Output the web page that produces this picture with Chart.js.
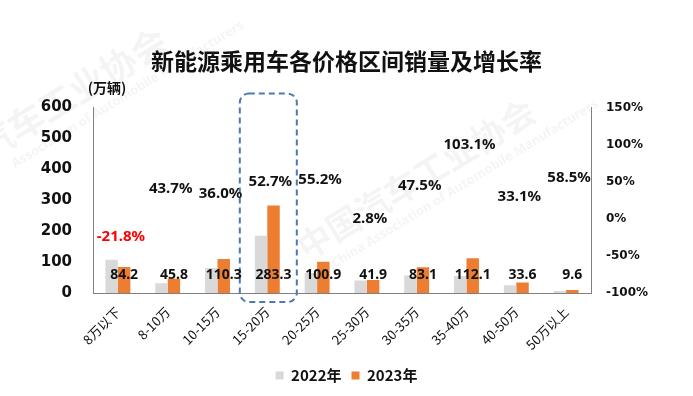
<!DOCTYPE html>
<html>
<head>
<meta charset="utf-8">
<script src="https://cdn.jsdelivr.net/npm/chart.js@4/dist/chart.umd.min.js"></script>
<style>
html,body{margin:0;padding:0;background:#fff;}
#wrap{width:693px;height:396px;position:relative;}
</style>
</head>
<body>
<div id="wrap"><canvas id="c" width="693" height="396"></canvas></div>
<script>
const categories = ['8万以下','8-10万','10-15万','15-20万','20-25万','25-30万','30-35万','35-40万','40-50万','50万以上'];
const sales2022 = [107.7, 31.9, 81.1, 185.5, 65.0, 40.8, 56.3, 55.2, 25.2, 6.1];
const sales2023 = [84.2, 45.8, 110.3, 283.3, 100.9, 41.9, 83.1, 112.1, 33.6, 9.6];
const growthRate = [-21.8, 43.7, 36.0, 52.7, 55.2, 2.8, 47.5, 103.1, 33.1, 58.5];
const leftTicks = [0, 100, 200, 300, 400, 500, 600];
const rightTicks = [-100, -50, 0, 50, 100, 150];
const highlightIndex = 3;

const CJK = '"Noto Sans CJK SC", "Noto Sans", sans-serif';

const watermark = {
  id: 'watermark',
  beforeDraw(chart) {
    const ctx = chart.ctx;
    ctx.save();
    ctx.fillStyle = 'rgba(0,0,0,0.045)';
    ctx.textAlign = 'left';
    ctx.textBaseline = 'middle';
    ctx.translate(-20, 150);
    ctx.rotate(-0.55);
    ctx.font = 'bold 36px ' + CJK;
    ctx.fillText('汽车工业协会', 0, 0);
    ctx.font = 'bold 13px "Noto Sans", sans-serif';
    ctx.fillText('Association of Automobile Manufacturers', 20, 30);
    ctx.restore();
    ctx.save();
    ctx.fillStyle = 'rgba(0,0,0,0.045)';
    ctx.textBaseline = 'middle';
    ctx.translate(300, 250);
    ctx.rotate(-0.55);
    ctx.font = 'bold 34px ' + CJK;
    ctx.fillText('中国汽车工业协会', 0, 0);
    ctx.font = 'bold 13px "Noto Sans", sans-serif';
    ctx.fillText('China Association of Automobile Manufacturers', 20, 30);
    ctx.restore();
  }
};

const extras = {
  id: 'extras',
  afterDatasetsDraw(chart) {
    const ctx = chart.ctx;
    const xs = chart.scales.x;
    const area = chart.chartArea;
    const cx = xs.getPixelForValue(highlightIndex) + 1;
    const half = 28.5;
    const top = area.top - 14, bottom = area.bottom + 9;
    ctx.save();
    ctx.strokeStyle = '#4A7AAE';
    ctx.lineWidth = 2;
    ctx.setLineDash([6, 4]);
    ctx.beginPath();
    ctx.roundRect(cx - half, top, half * 2, bottom - top, 9);
    ctx.stroke();
    ctx.restore();

    const meta23 = chart.getDatasetMeta(1);
    ctx.save();
    ctx.font = 'bold 14px "Noto Sans", sans-serif';
    ctx.fillStyle = '#111';
    ctx.textAlign = 'center';
    ctx.textBaseline = 'middle';
    meta23.data.forEach((el, i) => {
      ctx.fillText(sales2023[i].toFixed(1), el.x, area.bottom - 18);
    });
    ctx.restore();

    const metaG = chart.getDatasetMeta(2);
    ctx.save();
    ctx.font = 'bold 15px "Noto Sans", sans-serif';
    ctx.textAlign = 'center';
    ctx.textBaseline = 'middle';
    metaG.data.forEach((el, i) => {
      const v = growthRate[i];
      ctx.fillStyle = v < 0 ? '#FF0000' : '#111';
      ctx.fillText(v.toFixed(1) + '%', el.x + 3, el.y + 2);
    });
    ctx.restore();

    ctx.save();
    ctx.font = 'bold 14px ' + CJK;
    ctx.fillStyle = '#111';
    ctx.textAlign = 'center';
    ctx.textBaseline = 'middle';
    ctx.fillText('(万辆)', 107, 88);
    ctx.restore();
  }
};

new Chart(document.getElementById('c'), {
  data: {
    labels: categories,
    datasets: [
      { type: 'bar', label: '2022年', data: sales2022, backgroundColor: '#D9D9D9', yAxisID: 'y', categoryPercentage: 0.5, barPercentage: 1.0, order: 2 },
      { type: 'bar', label: '2023年', data: sales2023, backgroundColor: '#ED7D31', yAxisID: 'y', categoryPercentage: 0.5, barPercentage: 1.0, order: 2 },
      { type: 'line', label: '增长率', data: growthRate, yAxisID: 'y1', showLine: false, pointRadius: 0, pointHoverRadius: 0, borderColor: 'rgba(0,0,0,0)', backgroundColor: 'rgba(0,0,0,0)', order: 1 }
    ]
  },
  options: {
    responsive: false,
    animation: false,
    events: [],
    layout: { padding: { left: 0, right: 0, top: 0, bottom: 3 } },
    plugins: {
      title: {
        display: true,
        text: '新能源乘用车各价格区间销量及增长率',
        color: '#111',
        font: { family: CJK, size: 23, weight: 'bold' },
        padding: { top: 47, bottom: 33 }
      },
      legend: {
        position: 'bottom',
        labels: {
          filter: (item) => item.datasetIndex < 2,
          boxWidth: 8,
          boxHeight: 8,
          padding: 10,
          color: '#111',
          font: { family: CJK, size: 15, weight: 'bold' }
        }
      },
      tooltip: { enabled: false }
    },
    scales: {
      x: {
        offset: true,
        grid: { display: false, drawTicks: false },
        border: { display: true, color: '#808080', width: 1 },
        ticks: {
          minRotation: 45, maxRotation: 45, padding: 11,
          color: '#111',
          font: { family: CJK, size: 13 }
        },
        afterFit: (s) => { s.height = 65; }
      },
      y: {
        position: 'left',
        min: 0, max: 600,
        afterBuildTicks: (s) => { s.ticks = leftTicks.map(v => ({ value: v })); },
        grid: { display: false, drawTicks: false },
        border: { display: true, color: '#808080', width: 1 },
        ticks: {
          padding: 21, color: '#111',
          font: { family: '"DejaVu Sans", sans-serif', size: 15, weight: 'bold' }
        },
        afterFit: (s) => { s.width = 93; }
      },
      y1: {
        position: 'right',
        min: -100, max: 150,
        afterBuildTicks: (s) => { s.ticks = rightTicks.map(v => ({ value: v })); },
        grid: { display: false, drawTicks: false },
        border: { display: true, color: '#808080', width: 1 },
        ticks: {
          padding: 15, color: '#111',
          font: { family: '"DejaVu Sans", sans-serif', size: 12, weight: 'bold' },
          callback: (v) => v + '%'
        },
        afterFit: (s) => { s.width = 102; }
      }
    }
  },
  plugins: [watermark, extras]
});
</script>
</body>
</html>
